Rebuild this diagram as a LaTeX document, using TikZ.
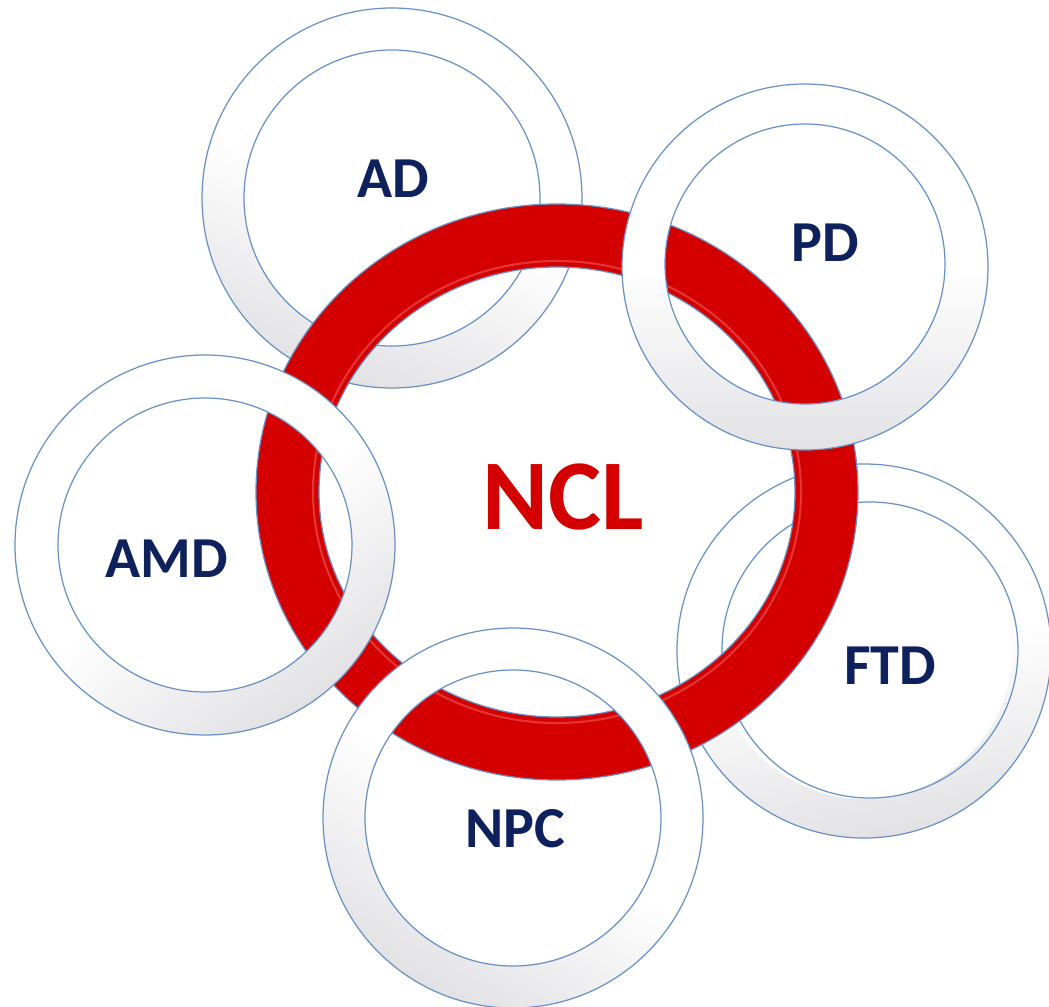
\documentclass[tikz,border=0pt]{standalone}
\usepackage{fontspec}
\setmainfont{Carlito}
\usepackage{xcolor}

\definecolor{ringline}{RGB}{104,146,198}
\definecolor{ringgray}{RGB}{226,226,229}
\definecolor{nclred}{RGB}{212,0,0}
\definecolor{navy}{RGB}{14,33,92}

\tikzset{
    ringband/.style={even odd rule, top color=white, bottom color=ringgray, middle color=white, shading angle=#1},
    ringedge/.style={draw=ringline, line width=0.7pt},
    lbl/.style={font=\fontsize{33}{36}\selectfont\bfseries, text=navy, inner sep=0pt},
}

\begin{document}
\begin{tikzpicture}[x=0.02cm, y=-0.02cm]
    \fill[white] (0,0) rectangle (1049,1007);
    \useasboundingbox (0,0) rectangle (1049,1007);

    \coordinate (ad) at (392,198);
    \coordinate (pd) at (805,267);
    \coordinate (amd) at (205,545);
    \coordinate (ftd) at (864,651);
    \coordinate (npc) at (513,818);
    \coordinate (ncl) at (557,492);

    % AD Ring
    \shade[ringband=-20] (ad) circle (190) circle (148);
    \draw[ringedge] (ad) circle (190) circle (148);

    % FTD Ring
    \shade[ringband=10] (ftd) circle (187) circle (148);
    \draw[ringedge] (ftd) circle (187) (870,650) circle (148);

    % NCL Ring
    \fill[nclred, even odd rule] (ncl) ellipse [x radius=301, y radius=288] ellipse [x radius=238, y radius=225];
    \draw[red!40, line width=1.2pt, opacity=.35] (ncl) ellipse [x radius=244, y radius=231];
    \draw[ringedge] (ncl) ellipse [x radius=301, y radius=288] ellipse [x radius=238, y radius=225];

    % PD Ring
    \shade[ringband=0] (pd) circle (183) (805,264) circle (140);
    \draw[ringedge] (pd) circle (183) (805,264) circle (140);

    % AMD Ring
    \shade[ringband=35] (amd) circle (190) circle (147);
    \draw[ringedge] (amd) circle (190) circle (147);

    % NPC Ring
    \shade[ringband=-30] (npc) circle (190) circle (148);
    \draw[ringedge] (npc) circle (190) circle (148);

    % Labels
    \node[lbl] (adlabel) at (393,179) {AD};
    \node[lbl] (pdlabel) at (825,243) {PD};
    \node[lbl] (amdlabel) at (167,559) {AMD};
    \node[lbl] (ftdlabel) at (890,666) {FTD};
    \node[lbl] (npclabel) at (515,829) {NPC};
    \node[lbl, text=nclred, font=\fontsize{57}{60}\selectfont\bfseries] (ncllabel) at (563,497) {NCL};

\end{tikzpicture}
\end{document}
